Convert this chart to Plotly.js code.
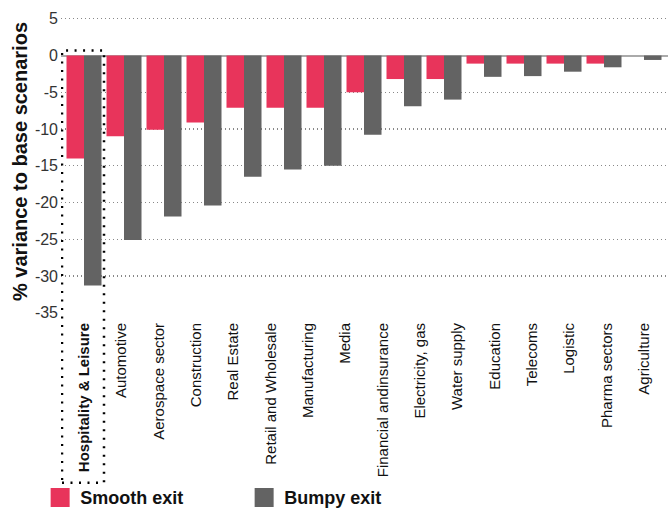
<!DOCTYPE html>
<html>
<head>
<meta charset="utf-8">
<script src="https://cdn.plot.ly/plotly-3.0.1.min.js"></script>
<style>
  html, body { margin: 0; padding: 0; background: #fff; }
  #chart { width: 669px; height: 511px; }
</style>
</head>
<body>
<div id="chart"></div>
<script>
// ---- data ----
const tickLabels = [
  "Hospitality & Leisure", "Automotive", "Aerospace sector", "Construction",
  "Real Estate", "Retail and Wholesale", "Manufacturing", "Media",
  "Financial andinsurance", "Electricity, gas", "Water supply", "Education",
  "Telecoms", "Logistic", "Pharma sectors", "Agriculture"
];
// bar groups as drawn in the picture (15 groups under the 16 labels)
const smoothExit = [-14.0, -11.0, -10.1, -9.1, -7.1, -7.1, -7.1, -5.0, -3.2, -3.2, -1.1, -1.1, -1.1, -1.1, 0];
const bumpyExit  = [-31.3, -25.1, -21.9, -20.4, -16.5, -15.5, -15.0, -10.8, -6.9, -6.0, -2.9, -2.8, -2.2, -1.6, -0.6];
const seriesNames = ["Smooth exit", "Bumpy exit"];
const yTicks = [5, 0, -5, -10, -15, -20, -25, -30, -35];

// ---- chart ----
const groupIdx = smoothExit.map((_, i) => i);
const nGroups = smoothExit.length;
const labelPos = tickLabels.map((_, j) => j * (nGroups - 1) / (tickLabels.length - 1));
const labelText = tickLabels.map((t, j) => j === 0 ? "<b>" + t + "</b>" : t);

const traces = [
  { type: "bar", name: seriesNames[0], x: groupIdx, y: smoothExit,
    marker: { color: "#E8345B" }, hoverinfo: "skip" },
  { type: "bar", name: seriesNames[1], x: groupIdx, y: bumpyExit,
    marker: { color: "#636363" }, hoverinfo: "skip" }
];

const layout = {
  width: 669, height: 511,
  margin: { l: 61, r: 1, t: 10, b: 198, pad: 0 },
  paper_bgcolor: "#fff", plot_bgcolor: "#fff",
  barmode: "group", bargap: 0.125, bargroupgap: 0,
  font: { family: "Liberation Sans, Arial, sans-serif", color: "#222" },
  showlegend: true,
  legend: {
    orientation: "h",
    xref: "container", x: 0.06, xanchor: "left",
    yref: "container", y: 0.026, yanchor: "middle",
    font: { size: 18, weight: "bold", color: "#111" },
    entrywidth: 159, entrywidthmode: "pixels",
    bgcolor: "rgba(0,0,0,0)", traceorder: "normal"
  },
  xaxis: {
    range: [-0.575, 14.6],
    tickmode: "array", tickvals: labelPos, ticktext: labelText,
    tickangle: -90, tickfont: { size: 15, color: "#111" },
    showgrid: false, zeroline: false, showline: false, ticks: "",
    ticklabelstandoff: 6, automargin: false, fixedrange: true
  },
  yaxis: {
    range: [-35.05, 6.2],
    tickmode: "array", tickvals: yTicks, ticktext: yTicks.map(String),
    tickfont: { size: 16, color: "#333" },
    showgrid: true, gridcolor: "#888", griddash: "1px,3px", gridwidth: 1.2,
    zeroline: true, zerolinecolor: "#aaaaaa", zerolinewidth: 2,
    showline: false, ticks: "", ticklabelstandoff: 2,
    title: { text: "<b>% variance to base scenarios</b>", font: { size: 20, color: "#111" }, standoff: 1 },
    automargin: false, fixedrange: true
  },
  shapes: [
    { type: "rect", xref: "x", yref: "paper",
      x0: -0.55, x1: 0.5, y0: -0.56, y1: 0.866,
      line: { color: "#000", width: 2.5, dash: "2px,6.5px" },
      fillcolor: "rgba(0,0,0,0)", layer: "above" }
  ]
};

Plotly.newPlot("chart", traces, layout, { staticPlot: true, displayModeBar: false }).then(function (gd) {
  // enlarge the legend swatches to match the reference's square markers
  gd.querySelectorAll(".legend .legendpoints path").forEach(function (p) {
    p.setAttribute("d", "M9.5,9.5H-9.5V-9.5H9.5Z");
  });
});
</script>
</body>
</html>
